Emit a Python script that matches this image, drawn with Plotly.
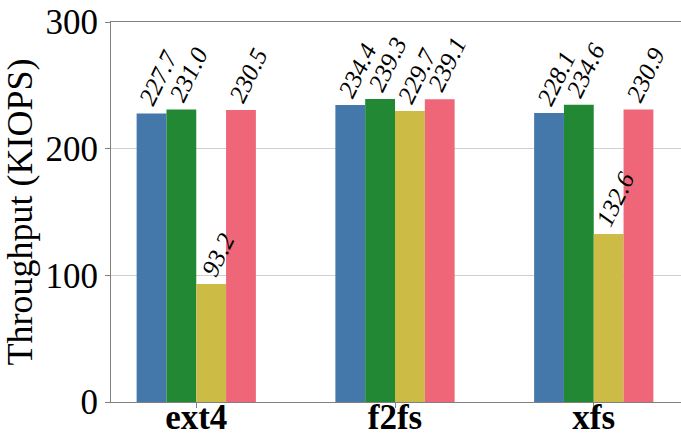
import plotly.graph_objects as go

# Filesystems on the x axis
filesystems = ["ext4", "f2fs", "xfs"]

# Throughput (KIOPS) per configuration, one list per bar colour
series_a = [227.7, 234.4, 228.1]
series_b = [231.0, 239.3, 234.6]
series_c = [93.2, 229.7, 132.6]
series_d = [230.5, 239.1, 230.9]

y_ticks = [0, 100, 200, 300]

all_series = [series_a, series_b, series_c, series_d]
colors = ["#4477AA", "#228833", "#CCBB44", "#EE6677"]

bar_w = 0.15
n = len(all_series)
positions = list(range(len(filesystems)))

fig = go.Figure()
annotations = []
for j, (vals, col) in enumerate(zip(all_series, colors)):
    off = -bar_w * n / 2 + j * bar_w
    fig.add_trace(go.Bar(
        x=positions, y=vals, width=bar_w, offset=off,
        marker=dict(color=col, line=dict(width=0)),
        showlegend=False, hoverinfo="skip",
    ))
    for xi, v in zip(positions, vals):
        annotations.append(dict(
            x=xi + off + bar_w / 2, y=v, xref="x", yref="y",
            text=f"{v:.1f}", showarrow=False, textangle=-64,
            xanchor="center", yanchor="bottom", yshift=1, xshift=7,
            font=dict(family="Liberation Serif", size=25, color="black", style="italic"),
        ))

fig.update_layout(
    width=681, height=437,
    margin=dict(l=111, r=0, t=22, b=35),
    paper_bgcolor="white", plot_bgcolor="white",
    barmode="overlay",
    annotations=annotations,
    font=dict(family="Liberation Serif", color="black"),
)
fig.update_xaxes(
    range=[-0.429, 2.439], automargin=False,
    tickmode="array", tickvals=positions, ticktext=filesystems,
    tickfont=dict(family="Liberation Serif", size=35, color="black", weight="bold"),
    ticklabelstandoff=-21,
    showline=True, linecolor="#808080", linewidth=1, mirror=True,
    ticks="outside", ticklen=5, tickcolor="#808080",
    showgrid=False, zeroline=False,
)
fig.update_yaxes(
    range=[0, 300], tickvals=y_ticks, automargin=False,
    tickfont=dict(family="Liberation Serif", size=35, color="black"),
    title=dict(text="Throughput (KIOPS)", font=dict(family="Liberation Serif", size=36, color="black"), standoff=6),
    showline=True, linecolor="#808080", linewidth=1, mirror=False,
    ticks="outside", ticklen=5, tickcolor="#808080",
    showgrid=True, gridcolor="#d0d0d0", gridwidth=1, zeroline=False,
)

fig.write_html("out.html")
